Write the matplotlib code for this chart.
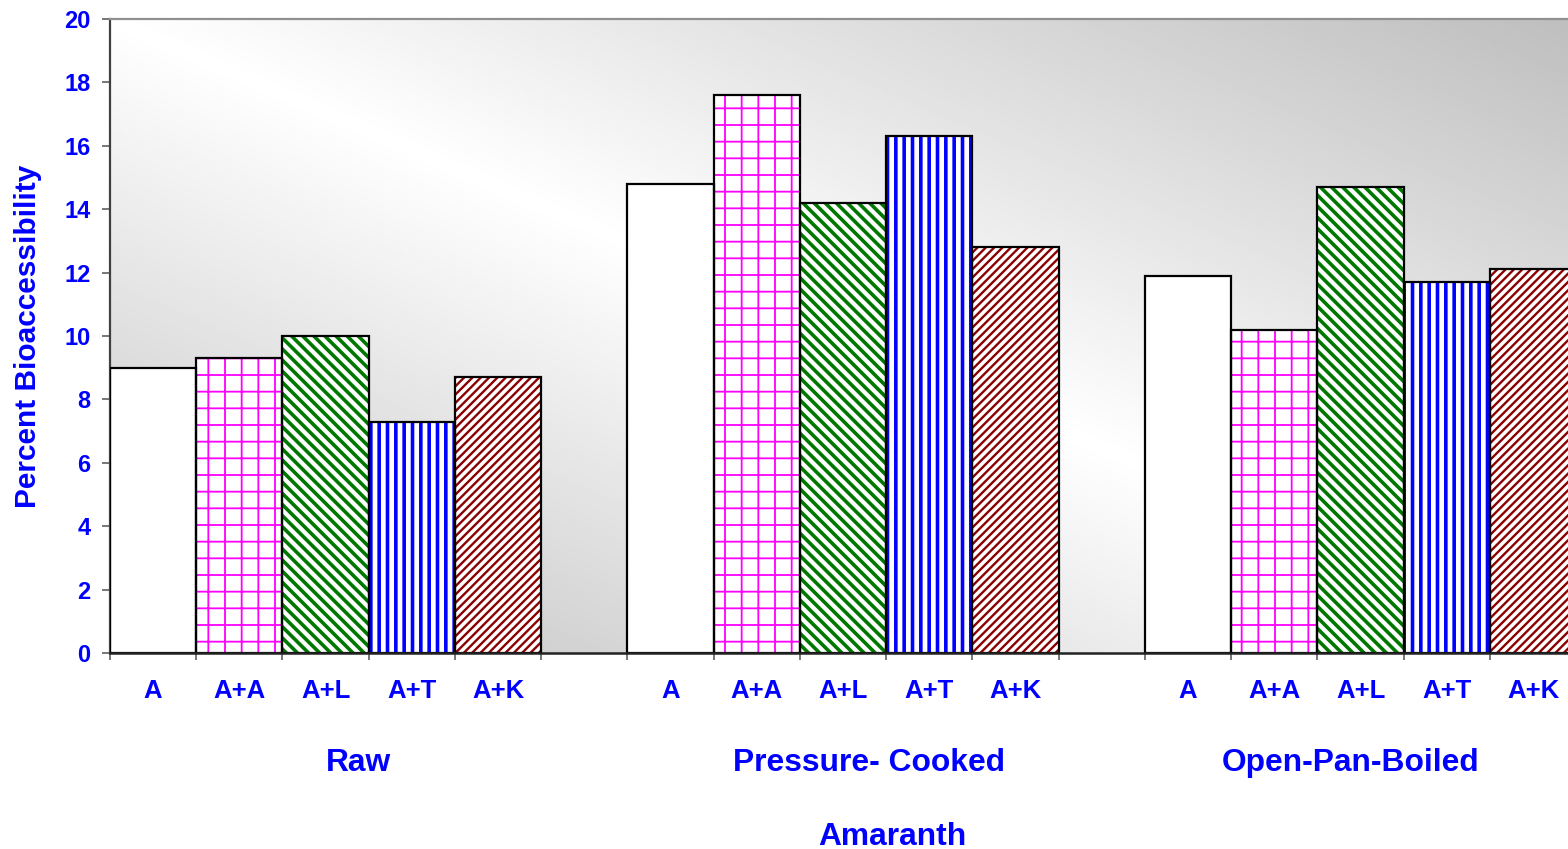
import numpy as np
import matplotlib
matplotlib.use('Agg')
import matplotlib.pyplot as plt

plt.rcParams['font.family'] = ['Liberation Sans', 'DejaVu Sans']
plt.rcParams['font.weight'] = 'bold'

# percent bioaccessibility per treatment and cooking method
groups = ['Raw', 'Pressure- Cooked', 'Open-Pan-Boiled']
treatments = ['A', 'A+A', 'A+L', 'A+T', 'A+K']
raw = [9.0, 9.3, 10.0, 7.3, 8.7]
pressure_cooked = [14.8, 17.6, 14.2, 16.3, 12.8]
open_pan_boiled = [11.9, 10.2, 14.7, 11.7, 12.1]
values = [raw, pressure_cooked, open_pan_boiled]

hatch_colors = ['white', '#ff00ff', '#007800', '#0000ff', '#8b0000']
hatches = ['', '+', '\\\\\\', '||', '////']
hatch_widths = [1.0, 1.3, 2.6, 2.6, 1.7]

blue = '#0000ff'
W, H = 1568, 849
fig = plt.figure(figsize=(W / 100, H / 100), dpi=100)
slot = 86.25
ax = fig.add_axes([110 / W, 196 / H, 17 * slot / W, 634 / H])

# grey diagonal shading, lightest along the top-left / bottom-right diagonal
u, v = np.meshgrid(np.linspace(0, 1, 400), np.linspace(1, 0, 300))
shade = np.abs(u + v - 1)
bg = 1.0 - shade * (255 - 190) / 255
ax.imshow(bg, cmap='gray', vmin=0, vmax=1, extent=[0, 1, 0, 1],
          transform=ax.transAxes, aspect='auto', zorder=0, interpolation='bilinear')

centers = []
for g, vals in enumerate(values):
    for i, val in enumerate(vals):
        x = g * 6 + i + 0.5
        centers.append(x)
        b = ax.bar(x, val, width=1.0, color='white', edgecolor=hatch_colors[i],
                   hatch=hatches[i], linewidth=0, zorder=2)
        for p in b:
            if hasattr(p, 'set_hatch_linewidth'):
                p.set_hatch_linewidth(hatch_widths[i])
        ax.bar(x, val, width=1.0, fill=False, edgecolor='black', linewidth=1.6, zorder=3)

ax.set_xlim(0, 17)
ax.set_ylim(0, 20)
ax.set_yticks(np.arange(0, 21, 2))
ax.set_xticks(np.arange(0, 18))
ax.set_xticklabels([])
ax.set_xticks(centers, minor=True)
ax.set_xticklabels(treatments * 3, minor=True)

ax.tick_params(axis='y', direction='out', length=6, width=1.2, color='#606060',
               labelcolor=blue, labelsize=17, pad=8)
ax.tick_params(axis='x', which='major', direction='out', length=5, width=1.2, color='#606060')
ax.tick_params(axis='x', which='minor', length=0, labelcolor=blue, labelsize=18.5, pad=19)
for lab in ax.get_yticklabels() + ax.get_xticklabels(minor=True):
    lab.set_fontweight('bold')

ax.spines['left'].set_color('#404040')
ax.spines['left'].set_linewidth(1.6)
ax.spines['top'].set_color('#909090')
ax.spines['top'].set_linewidth(1.6)
ax.spines['bottom'].set_color('#222222')
ax.spines['bottom'].set_linewidth(1.8)
ax.spines['bottom'].set_zorder(4)
ax.spines['right'].set_visible(False)

fig.text(28 / W, 1 - 336 / H, 'Percent Bioaccessibility', rotation=90, color=blue,
         fontsize=21.5, fontweight='bold', ha='center', va='center')

group_x = [358, 869, 1351]
for gx, name in zip(group_x, groups):
    fig.text(gx / W, 1 - 763 / H, name, color=blue, fontsize=22.9,
             fontweight='bold', ha='center', va='center')
fig.text(892 / W, 1 - 837 / H, 'Amaranth', color=blue, fontsize=22.9,
         fontweight='bold', ha='center', va='center')

fig.savefig('out.png', dpi=100)
